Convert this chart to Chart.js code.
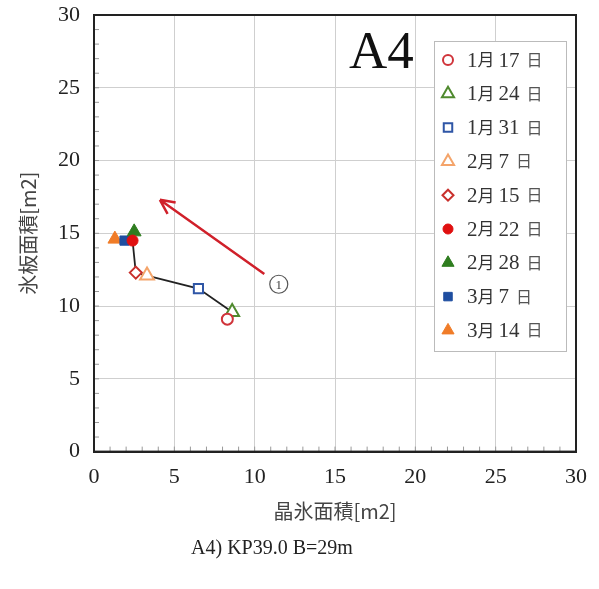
<!DOCTYPE html>
<html>
<head>
<meta charset="utf-8">
<script src="https://cdn.jsdelivr.net/npm/chart.js@4/dist/chart.umd.min.js"></script>
<style>
  body { margin: 0; background: #fff; }
</style>
</head>
<body>
<canvas id="myChart" width="599" height="589"></canvas>
<script>
// survey dates and measured areas
var dates = ["1月17日", "1月24日", "1月31日", "2月7日", "2月15日", "2月22日", "2月28日", "3月7日", "3月14日"];
var crystalArea = [8.3, 8.6, 6.5, 3.3, 2.6, 2.4, 2.5, 1.9, 1.3];
var plateArea = [9.1, 9.6, 11.2, 12.1, 12.3, 14.5, 15.1, 14.5, 14.6];
var arrowFrom = [10.6, 12.2];
var arrowTo = [4.1, 17.3];
var markLabel = [11.5, 11.5];
var axisTicks = [0, 5, 10, 15, 20, 25, 30];
var caption = "A4) KP39.0 B=29m";

var pointStyles = ["circle", "triangle", "rect", "triangle", "rectRot", "circle", "triangle", "rect", "triangle"];
var pointColors = ["#d0343a", "#4f8a2e", "#2f56a6", "#f4a46a", "#c9302c", "#e01010", "#2f7d1f", "#1f4ea0", "#f07c28"];
var filled = [false, false, false, false, false, true, true, true, true];
var pointSizes = [5.5, 8, 6.5, 8, 6, 5.5, 8, 6.5, 8];
var legendSizes = [5, 7, 6, 7, 5.5, 5, 7, 6, 7];

var serif = "'Liberation Serif', 'DejaVu Serif', serif";
var jp = "'Noto Sans CJK JP', sans-serif";

var datasets = [];
// black line joining the dates in order
var linePts = [];
for (var i = 1; i < dates.length; i++) {
    linePts.push({x: crystalArea[i], y: plateArea[i]});
}
datasets.push({
    label: "line",
    data: linePts,
    showLine: true,
    borderColor: "#222",
    borderWidth: 1.8,
    pointRadius: 0,
    order: 2
});
for (var i = 0; i < dates.length; i++) {
    datasets.push({
        label: dates[i],
        data: [{x: crystalArea[i], y: plateArea[i]}],
        pointStyle: pointStyles[i],
        pointRadius: pointSizes[i],
        pointBorderWidth: filled[i] ? 1 : 2,
        borderColor: pointColors[i],
        backgroundColor: filled[i] ? pointColors[i] : "#fff",
        order: 1
    });
}

var extras = {
    id: "extras",
    beforeDatasetsDraw: function(chart) {
        var ctx = chart.ctx;
        var xs = chart.scales.x, ys = chart.scales.y;
        var a = chart.chartArea;
        // minor ticks on inside of axes
        ctx.save();
        ctx.strokeStyle = "#999";
        ctx.lineWidth = 1;
        for (var v = 1; v < 30; v++) {
            var px = xs.getPixelForValue(v);
            var py = ys.getPixelForValue(v);
            ctx.beginPath();
            ctx.moveTo(px, a.bottom); ctx.lineTo(px, a.bottom - 5);
            ctx.moveTo(a.left, py); ctx.lineTo(a.left + 5, py);
            ctx.stroke();
        }
        // frame
        ctx.strokeStyle = "#222";
        ctx.lineWidth = 2;
        ctx.strokeRect(a.left, a.top, a.right - a.left, a.bottom - a.top);
        ctx.restore();
    },
    afterDraw: function(chart) {
        var ctx = chart.ctx;
        var xs = chart.scales.x, ys = chart.scales.y;
        ctx.save();
        // arrow
        var x1 = xs.getPixelForValue(arrowFrom[0]), y1 = ys.getPixelForValue(arrowFrom[1]);
        var x2 = xs.getPixelForValue(arrowTo[0]), y2 = ys.getPixelForValue(arrowTo[1]);
        ctx.strokeStyle = "#d0202a";
        ctx.lineWidth = 2.5;
        ctx.beginPath();
        ctx.moveTo(x1, y1); ctx.lineTo(x2, y2);
        var ang = Math.atan2(y2 - y1, x2 - x1);
        ctx.moveTo(x2, y2);
        ctx.lineTo(x2 - 16 * Math.cos(ang - 0.45), y2 - 16 * Math.sin(ang - 0.45));
        ctx.moveTo(x2, y2);
        ctx.lineTo(x2 - 16 * Math.cos(ang + 0.45), y2 - 16 * Math.sin(ang + 0.45));
        ctx.stroke();
        // circled 1
        var cx = xs.getPixelForValue(markLabel[0]), cy = ys.getPixelForValue(markLabel[1]);
        ctx.strokeStyle = "#555";
        ctx.lineWidth = 1.2;
        ctx.beginPath();
        ctx.arc(cx, cy, 9, 0, Math.PI * 2);
        ctx.stroke();
        ctx.fillStyle = "#444";
        ctx.font = "13px " + serif;
        ctx.textAlign = "center";
        ctx.textBaseline = "middle";
        ctx.fillText("1", cx, cy + 1);
        // caption under the chart
        ctx.fillStyle = "#222";
        ctx.font = "20px " + serif;
        ctx.fillText(caption, 272, 549);
        // panel name
        ctx.fillStyle = "#111";
        ctx.font = "53px " + serif;
        ctx.textAlign = "left";
        ctx.textBaseline = "alphabetic";
        ctx.fillText("A4", 349, 68);
        // legend box
        var bx = 434, by = 41, bw = 132, bh = 310;
        ctx.fillStyle = "#fff";
        ctx.fillRect(bx, by, bw, bh);
        ctx.strokeStyle = "#bbb";
        ctx.lineWidth = 1;
        ctx.strokeRect(bx + 0.5, by + 0.5, bw, bh);
        for (var i = 0; i < dates.length; i++) {
            var ly = by + 19 + i * 33.8;
            ctx.strokeStyle = pointColors[i];
            ctx.fillStyle = filled[i] ? pointColors[i] : "#fff";
            ctx.lineWidth = filled[i] ? 1 : 2;
            Chart.helpers.drawPoint(ctx, {pointStyle: pointStyles[i], radius: legendSizes[i], borderWidth: ctx.lineWidth}, 448, ly);
            ctx.fillStyle = "#333";
            ctx.font = "21px " + serif;
            ctx.textBaseline = "middle";
            var m = dates[i].split("月");
            var tx = 467;
            ctx.fillText(m[0], tx, ly + 1);
            tx += ctx.measureText(m[0]).width;
            ctx.font = "17px " + jp;
            ctx.fillText("月", tx, ly);
            tx += 21;
            var day = m[1].replace("日", "");
            ctx.font = "21px " + serif;
            ctx.fillText(day, tx, ly + 1);
            tx += ctx.measureText(day).width + 7;
            ctx.font = "16px " + jp;
            ctx.fillStyle = "#555";
            ctx.fillText("日", tx, ly);
        }
        ctx.restore();
    }
};

new Chart(document.getElementById("myChart"), {
    type: "scatter",
    data: { datasets: datasets },
    options: {
        responsive: false,
        animation: false,
        layout: { padding: { left: 16, right: 15, top: 15, bottom: 66 } },
        plugins: {
            legend: { display: false },
            tooltip: { enabled: false }
        },
        scales: {
            x: {
                type: "linear",
                min: 0, max: 30,
                afterBuildTicks: function(s) { s.ticks = axisTicks.map(function(v) { return {value: v}; }); },
                ticks: { color: "#222", font: { family: serif, size: 22 }, padding: 12 },
                grid: { color: "#cfcfcf", lineWidth: 1, drawTicks: false },
                border: { color: "#222", width: 2 },
                title: { display: true, text: "晶氷面積[m2]", color: "#444", font: { family: jp, size: 20 }, padding: { top: -3, bottom: 0 } }
            },
            y: {
                type: "linear",
                min: 0, max: 30,
                afterBuildTicks: function(s) { s.ticks = axisTicks.map(function(v) { return {value: v}; }); },
                afterFit: function(s) { s.paddingTop = 0; s.paddingBottom = 0; },
                ticks: { color: "#222", font: { family: serif, size: 22 }, padding: 14 },
                grid: { color: "#cfcfcf", lineWidth: 1, drawTicks: false },
                border: { color: "#222", width: 2 },
                title: { display: true, text: "氷板面積[m2]", color: "#444", font: { family: jp, size: 20 }, padding: { top: 0, bottom: 4 } }
            }
        }
    },
    plugins: [extras]
});
</script>
</body>
</html>
